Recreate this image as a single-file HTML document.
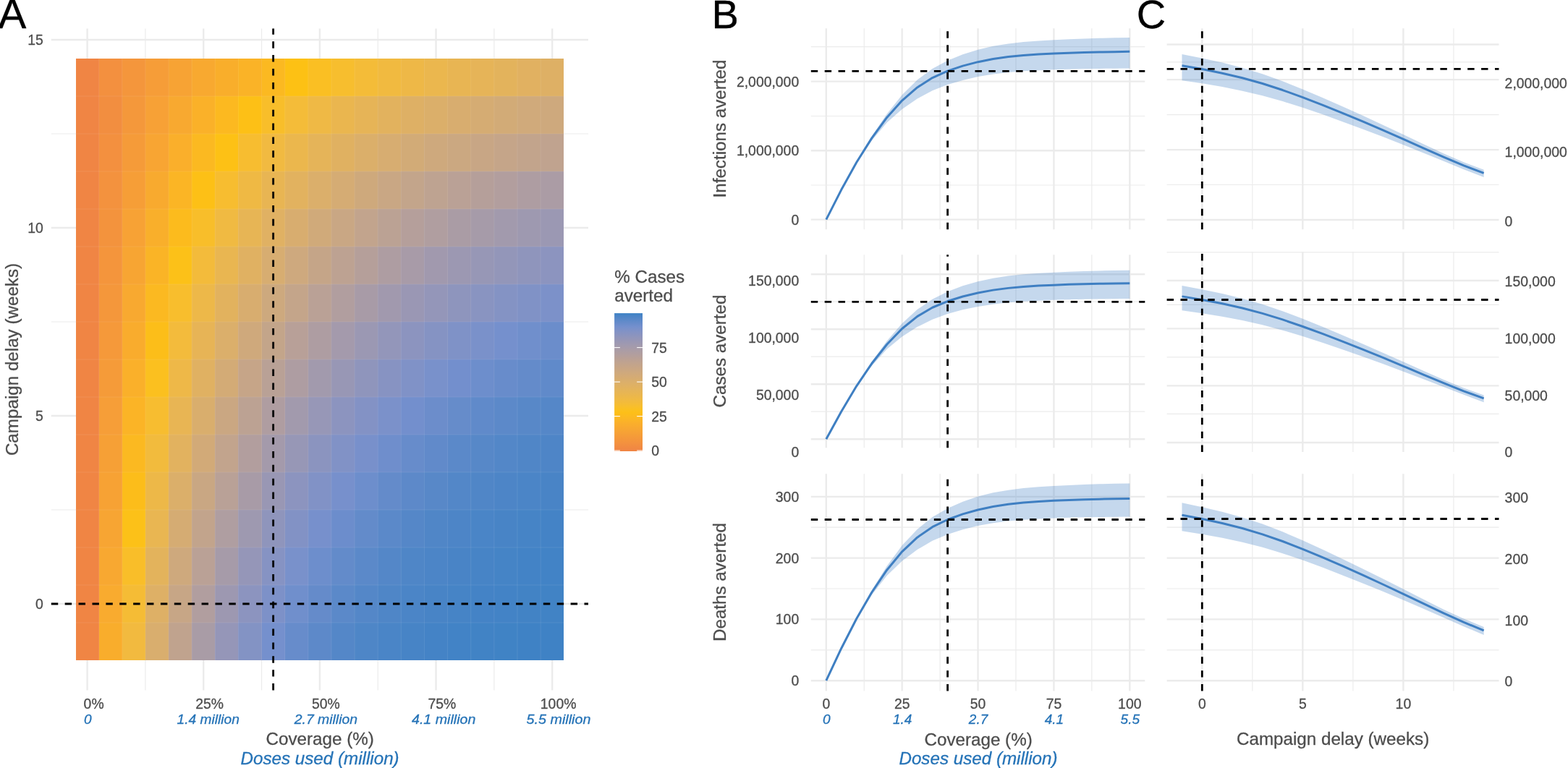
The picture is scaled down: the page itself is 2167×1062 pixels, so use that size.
<!DOCTYPE html>
<html lang="en"><head><meta charset="utf-8"><title>Vaccination campaign coverage and delay</title>
<style>
html,body{margin:0;padding:0;background:#fff;}
body{width:2167px;height:1062px;overflow:hidden;}
svg{display:block;font-family:"Liberation Sans",Arial,Helvetica,sans-serif;}
text{stroke-width:0.3px;stroke-linejoin:round;}
</style></head><body>
<svg width="2167" height="1062" viewBox="0 0 2167 1062">
<rect width="2167" height="1062" fill="#fff"/>
<g id="panelA">
<line x1="200.93" y1="39.5" x2="200.93" y2="954.5" stroke="#EBEBEB" stroke-width="1.18"/>
<line x1="361.57" y1="39.5" x2="361.57" y2="954.5" stroke="#EBEBEB" stroke-width="1.18"/>
<line x1="522.23" y1="39.5" x2="522.23" y2="954.5" stroke="#EBEBEB" stroke-width="1.18"/>
<line x1="682.88" y1="39.5" x2="682.88" y2="954.5" stroke="#EBEBEB" stroke-width="1.18"/>
<line x1="70.8" y1="705" x2="813" y2="705" stroke="#EBEBEB" stroke-width="1.18"/>
<line x1="70.8" y1="445" x2="813" y2="445" stroke="#EBEBEB" stroke-width="1.18"/>
<line x1="70.8" y1="185" x2="813" y2="185" stroke="#EBEBEB" stroke-width="1.18"/>
<line x1="120.6" y1="39.5" x2="120.6" y2="954.5" stroke="#EBEBEB" stroke-width="2.36"/>
<line x1="281.25" y1="39.5" x2="281.25" y2="954.5" stroke="#EBEBEB" stroke-width="2.36"/>
<line x1="441.9" y1="39.5" x2="441.9" y2="954.5" stroke="#EBEBEB" stroke-width="2.36"/>
<line x1="602.55" y1="39.5" x2="602.55" y2="954.5" stroke="#EBEBEB" stroke-width="2.36"/>
<line x1="763.2" y1="39.5" x2="763.2" y2="954.5" stroke="#EBEBEB" stroke-width="2.36"/>
<line x1="70.8" y1="835" x2="813" y2="835" stroke="#EBEBEB" stroke-width="2.36"/>
<line x1="70.8" y1="575" x2="813" y2="575" stroke="#EBEBEB" stroke-width="2.36"/>
<line x1="70.8" y1="315" x2="813" y2="315" stroke="#EBEBEB" stroke-width="2.36"/>
<line x1="70.8" y1="55" x2="813" y2="55" stroke="#EBEBEB" stroke-width="2.36"/>
<g shape-rendering="crispEdges">
<rect x="104.53" y="861" width="32.13" height="52" fill="#F08544"/>
<rect x="136.66" y="861" width="32.13" height="52" fill="#F9AD2C"/>
<rect x="168.79" y="861" width="32.13" height="52" fill="#F2BA3F"/>
<rect x="200.93" y="861" width="32.13" height="52" fill="#D9AE6E"/>
<rect x="233.06" y="861" width="32.13" height="52" fill="#C0A38E"/>
<rect x="265.19" y="861" width="32.13" height="52" fill="#A99CA6"/>
<rect x="297.31" y="861" width="32.13" height="52" fill="#9596B8"/>
<rect x="329.44" y="861" width="32.13" height="52" fill="#8393C4"/>
<rect x="361.57" y="861" width="32.13" height="52" fill="#7590CD"/>
<rect x="393.71" y="861" width="32.13" height="52" fill="#678CCB"/>
<rect x="425.84" y="861" width="32.13" height="52" fill="#5D89C9"/>
<rect x="457.97" y="861" width="32.13" height="52" fill="#5487C8"/>
<rect x="490.1" y="861" width="32.13" height="52" fill="#4E86C7"/>
<rect x="522.23" y="861" width="32.13" height="52" fill="#4A85C7"/>
<rect x="554.36" y="861" width="32.13" height="52" fill="#4784C6"/>
<rect x="586.49" y="861" width="32.13" height="52" fill="#4483C6"/>
<rect x="618.62" y="861" width="32.13" height="52" fill="#4283C6"/>
<rect x="650.75" y="861" width="32.13" height="52" fill="#4183C5"/>
<rect x="682.88" y="861" width="32.13" height="52" fill="#4083C5"/>
<rect x="715" y="861" width="32.13" height="52" fill="#3F82C5"/>
<rect x="747.13" y="861" width="32.13" height="52" fill="#3F82C5"/>
<rect x="104.53" y="809" width="32.13" height="52" fill="#F08544"/>
<rect x="136.66" y="809" width="32.13" height="52" fill="#F9AB2F"/>
<rect x="168.79" y="809" width="32.13" height="52" fill="#F5BC35"/>
<rect x="200.93" y="809" width="32.13" height="52" fill="#DEB066"/>
<rect x="233.06" y="809" width="32.13" height="52" fill="#C7A686"/>
<rect x="265.19" y="809" width="32.13" height="52" fill="#B19E9F"/>
<rect x="297.31" y="809" width="32.13" height="52" fill="#9D98B1"/>
<rect x="329.44" y="809" width="32.13" height="52" fill="#8C94BF"/>
<rect x="361.57" y="809" width="32.13" height="52" fill="#7D91C8"/>
<rect x="393.71" y="809" width="32.13" height="52" fill="#708FCC"/>
<rect x="425.84" y="809" width="32.13" height="52" fill="#658BCA"/>
<rect x="457.97" y="809" width="32.13" height="52" fill="#5B89C9"/>
<rect x="490.1" y="809" width="32.13" height="52" fill="#5487C8"/>
<rect x="522.23" y="809" width="32.13" height="52" fill="#4F86C7"/>
<rect x="554.36" y="809" width="32.13" height="52" fill="#4B85C7"/>
<rect x="586.49" y="809" width="32.13" height="52" fill="#4884C6"/>
<rect x="618.62" y="809" width="32.13" height="52" fill="#4684C6"/>
<rect x="650.75" y="809" width="32.13" height="52" fill="#4483C6"/>
<rect x="682.88" y="809" width="32.13" height="52" fill="#4383C6"/>
<rect x="715" y="809" width="32.13" height="52" fill="#4283C5"/>
<rect x="747.13" y="809" width="32.13" height="52" fill="#4183C5"/>
<rect x="104.53" y="757" width="32.13" height="52" fill="#F08544"/>
<rect x="136.66" y="757" width="32.13" height="52" fill="#F8A831"/>
<rect x="168.79" y="757" width="32.13" height="52" fill="#F9BE29"/>
<rect x="200.93" y="757" width="32.13" height="52" fill="#E3B35C"/>
<rect x="233.06" y="757" width="32.13" height="52" fill="#CEA97D"/>
<rect x="265.19" y="757" width="32.13" height="52" fill="#BAA196"/>
<rect x="297.31" y="757" width="32.13" height="52" fill="#A69BA9"/>
<rect x="329.44" y="757" width="32.13" height="52" fill="#9596B8"/>
<rect x="361.57" y="757" width="32.13" height="52" fill="#8693C3"/>
<rect x="393.71" y="757" width="32.13" height="52" fill="#7991CB"/>
<rect x="425.84" y="757" width="32.13" height="52" fill="#6D8ECC"/>
<rect x="457.97" y="757" width="32.13" height="52" fill="#638BCA"/>
<rect x="490.1" y="757" width="32.13" height="52" fill="#5B89C9"/>
<rect x="522.23" y="757" width="32.13" height="52" fill="#5487C8"/>
<rect x="554.36" y="757" width="32.13" height="52" fill="#4F86C7"/>
<rect x="586.49" y="757" width="32.13" height="52" fill="#4C85C7"/>
<rect x="618.62" y="757" width="32.13" height="52" fill="#4984C6"/>
<rect x="650.75" y="757" width="32.13" height="52" fill="#4784C6"/>
<rect x="682.88" y="757" width="32.13" height="52" fill="#4584C6"/>
<rect x="715" y="757" width="32.13" height="52" fill="#4383C6"/>
<rect x="747.13" y="757" width="32.13" height="52" fill="#4283C6"/>
<rect x="104.53" y="705" width="32.13" height="52" fill="#F08544"/>
<rect x="136.66" y="705" width="32.13" height="52" fill="#F7A533"/>
<rect x="168.79" y="705" width="32.13" height="52" fill="#FCC118"/>
<rect x="200.93" y="705" width="32.13" height="52" fill="#E9B652"/>
<rect x="233.06" y="705" width="32.13" height="52" fill="#D5AC73"/>
<rect x="265.19" y="705" width="32.13" height="52" fill="#C2A48C"/>
<rect x="297.31" y="705" width="32.13" height="52" fill="#AF9EA1"/>
<rect x="329.44" y="705" width="32.13" height="52" fill="#9E99B0"/>
<rect x="361.57" y="705" width="32.13" height="52" fill="#8F95BC"/>
<rect x="393.71" y="705" width="32.13" height="52" fill="#8292C5"/>
<rect x="425.84" y="705" width="32.13" height="52" fill="#7790CC"/>
<rect x="457.97" y="705" width="32.13" height="52" fill="#6C8DCC"/>
<rect x="490.1" y="705" width="32.13" height="52" fill="#638BCA"/>
<rect x="522.23" y="705" width="32.13" height="52" fill="#5B89C9"/>
<rect x="554.36" y="705" width="32.13" height="52" fill="#5587C8"/>
<rect x="586.49" y="705" width="32.13" height="52" fill="#5086C7"/>
<rect x="618.62" y="705" width="32.13" height="52" fill="#4D85C7"/>
<rect x="650.75" y="705" width="32.13" height="52" fill="#4A85C7"/>
<rect x="682.88" y="705" width="32.13" height="52" fill="#4884C6"/>
<rect x="715" y="705" width="32.13" height="52" fill="#4684C6"/>
<rect x="747.13" y="705" width="32.13" height="52" fill="#4483C6"/>
<rect x="104.53" y="653" width="32.13" height="52" fill="#F08544"/>
<rect x="136.66" y="653" width="32.13" height="52" fill="#F7A234"/>
<rect x="168.79" y="653" width="32.13" height="52" fill="#FCBD1A"/>
<rect x="200.93" y="653" width="32.13" height="52" fill="#EDB848"/>
<rect x="233.06" y="653" width="32.13" height="52" fill="#DBAF6A"/>
<rect x="265.19" y="653" width="32.13" height="52" fill="#C9A783"/>
<rect x="297.31" y="653" width="32.13" height="52" fill="#B9A197"/>
<rect x="329.44" y="653" width="32.13" height="52" fill="#A89BA7"/>
<rect x="361.57" y="653" width="32.13" height="52" fill="#9997B4"/>
<rect x="393.71" y="653" width="32.13" height="52" fill="#8C94BF"/>
<rect x="425.84" y="653" width="32.13" height="52" fill="#8192C6"/>
<rect x="457.97" y="653" width="32.13" height="52" fill="#7790CC"/>
<rect x="490.1" y="653" width="32.13" height="52" fill="#6D8ECC"/>
<rect x="522.23" y="653" width="32.13" height="52" fill="#648BCA"/>
<rect x="554.36" y="653" width="32.13" height="52" fill="#5D89C9"/>
<rect x="586.49" y="653" width="32.13" height="52" fill="#5888C8"/>
<rect x="618.62" y="653" width="32.13" height="52" fill="#5387C8"/>
<rect x="650.75" y="653" width="32.13" height="52" fill="#5086C7"/>
<rect x="682.88" y="653" width="32.13" height="52" fill="#4D85C7"/>
<rect x="715" y="653" width="32.13" height="52" fill="#4B85C7"/>
<rect x="747.13" y="653" width="32.13" height="52" fill="#4984C6"/>
<rect x="104.53" y="601" width="32.13" height="52" fill="#F08544"/>
<rect x="136.66" y="601" width="32.13" height="52" fill="#F6A036"/>
<rect x="168.79" y="601" width="32.13" height="52" fill="#FBB921"/>
<rect x="200.93" y="601" width="32.13" height="52" fill="#F2BB3D"/>
<rect x="233.06" y="601" width="32.13" height="52" fill="#E2B25F"/>
<rect x="265.19" y="601" width="32.13" height="52" fill="#D2AA78"/>
<rect x="297.31" y="601" width="32.13" height="52" fill="#C2A48D"/>
<rect x="329.44" y="601" width="32.13" height="52" fill="#B29E9E"/>
<rect x="361.57" y="601" width="32.13" height="52" fill="#A49AAB"/>
<rect x="393.71" y="601" width="32.13" height="52" fill="#9797B6"/>
<rect x="425.84" y="601" width="32.13" height="52" fill="#8B94BF"/>
<rect x="457.97" y="601" width="32.13" height="52" fill="#8192C6"/>
<rect x="490.1" y="601" width="32.13" height="52" fill="#7890CB"/>
<rect x="522.23" y="601" width="32.13" height="52" fill="#6F8ECC"/>
<rect x="554.36" y="601" width="32.13" height="52" fill="#678CCB"/>
<rect x="586.49" y="601" width="32.13" height="52" fill="#618ACA"/>
<rect x="618.62" y="601" width="32.13" height="52" fill="#5B89C9"/>
<rect x="650.75" y="601" width="32.13" height="52" fill="#5788C8"/>
<rect x="682.88" y="601" width="32.13" height="52" fill="#5387C8"/>
<rect x="715" y="601" width="32.13" height="52" fill="#5086C7"/>
<rect x="747.13" y="601" width="32.13" height="52" fill="#4E85C7"/>
<rect x="104.53" y="549" width="32.13" height="52" fill="#F08544"/>
<rect x="136.66" y="549" width="32.13" height="52" fill="#F69E38"/>
<rect x="168.79" y="549" width="32.13" height="52" fill="#FBB426"/>
<rect x="200.93" y="549" width="32.13" height="52" fill="#F7BD30"/>
<rect x="233.06" y="549" width="32.13" height="52" fill="#E8B554"/>
<rect x="265.19" y="549" width="32.13" height="52" fill="#D9AE6D"/>
<rect x="297.31" y="549" width="32.13" height="52" fill="#CAA782"/>
<rect x="329.44" y="549" width="32.13" height="52" fill="#BCA293"/>
<rect x="361.57" y="549" width="32.13" height="52" fill="#AF9DA1"/>
<rect x="393.71" y="549" width="32.13" height="52" fill="#A29AAD"/>
<rect x="425.84" y="549" width="32.13" height="52" fill="#9797B7"/>
<rect x="457.97" y="549" width="32.13" height="52" fill="#8C94BF"/>
<rect x="490.1" y="549" width="32.13" height="52" fill="#8392C5"/>
<rect x="522.23" y="549" width="32.13" height="52" fill="#7B91CA"/>
<rect x="554.36" y="549" width="32.13" height="52" fill="#738FCD"/>
<rect x="586.49" y="549" width="32.13" height="52" fill="#6C8DCB"/>
<rect x="618.62" y="549" width="32.13" height="52" fill="#668CCA"/>
<rect x="650.75" y="549" width="32.13" height="52" fill="#608ACA"/>
<rect x="682.88" y="549" width="32.13" height="52" fill="#5C89C9"/>
<rect x="715" y="549" width="32.13" height="52" fill="#5888C8"/>
<rect x="747.13" y="549" width="32.13" height="52" fill="#5587C8"/>
<rect x="104.53" y="497" width="32.13" height="52" fill="#F08544"/>
<rect x="136.66" y="497" width="32.13" height="52" fill="#F59B39"/>
<rect x="168.79" y="497" width="32.13" height="52" fill="#FAB02A"/>
<rect x="200.93" y="497" width="32.13" height="52" fill="#FBC01F"/>
<rect x="233.06" y="497" width="32.13" height="52" fill="#EEB848"/>
<rect x="265.19" y="497" width="32.13" height="52" fill="#E0B162"/>
<rect x="297.31" y="497" width="32.13" height="52" fill="#D3AB76"/>
<rect x="329.44" y="497" width="32.13" height="52" fill="#C6A588"/>
<rect x="361.57" y="497" width="32.13" height="52" fill="#B9A196"/>
<rect x="393.71" y="497" width="32.13" height="52" fill="#AE9DA2"/>
<rect x="425.84" y="497" width="32.13" height="52" fill="#A29AAD"/>
<rect x="457.97" y="497" width="32.13" height="52" fill="#9897B5"/>
<rect x="490.1" y="497" width="32.13" height="52" fill="#8F95BC"/>
<rect x="522.23" y="497" width="32.13" height="52" fill="#8793C2"/>
<rect x="554.36" y="497" width="32.13" height="52" fill="#8092C7"/>
<rect x="586.49" y="497" width="32.13" height="52" fill="#7991CB"/>
<rect x="618.62" y="497" width="32.13" height="52" fill="#738FCD"/>
<rect x="650.75" y="497" width="32.13" height="52" fill="#6D8ECC"/>
<rect x="682.88" y="497" width="32.13" height="52" fill="#688CCB"/>
<rect x="715" y="497" width="32.13" height="52" fill="#648BCA"/>
<rect x="747.13" y="497" width="32.13" height="52" fill="#608ACA"/>
<rect x="104.53" y="445" width="32.13" height="52" fill="#F08544"/>
<rect x="136.66" y="445" width="32.13" height="52" fill="#F5993A"/>
<rect x="168.79" y="445" width="32.13" height="52" fill="#F9AC2D"/>
<rect x="200.93" y="445" width="32.13" height="52" fill="#FCBE19"/>
<rect x="233.06" y="445" width="32.13" height="52" fill="#F3BB3C"/>
<rect x="265.19" y="445" width="32.13" height="52" fill="#E7B456"/>
<rect x="297.31" y="445" width="32.13" height="52" fill="#DBAF6B"/>
<rect x="329.44" y="445" width="32.13" height="52" fill="#CFA97C"/>
<rect x="361.57" y="445" width="32.13" height="52" fill="#C3A58A"/>
<rect x="393.71" y="445" width="32.13" height="52" fill="#B8A098"/>
<rect x="425.84" y="445" width="32.13" height="52" fill="#AE9DA2"/>
<rect x="457.97" y="445" width="32.13" height="52" fill="#A49AAC"/>
<rect x="490.1" y="445" width="32.13" height="52" fill="#9B98B3"/>
<rect x="522.23" y="445" width="32.13" height="52" fill="#9396BA"/>
<rect x="554.36" y="445" width="32.13" height="52" fill="#8C94BF"/>
<rect x="586.49" y="445" width="32.13" height="52" fill="#8593C3"/>
<rect x="618.62" y="445" width="32.13" height="52" fill="#7F92C7"/>
<rect x="650.75" y="445" width="32.13" height="52" fill="#7A91CA"/>
<rect x="682.88" y="445" width="32.13" height="52" fill="#7590CD"/>
<rect x="715" y="445" width="32.13" height="52" fill="#708FCC"/>
<rect x="747.13" y="445" width="32.13" height="52" fill="#6B8DCB"/>
<rect x="104.53" y="393" width="32.13" height="52" fill="#F08544"/>
<rect x="136.66" y="393" width="32.13" height="52" fill="#F4973B"/>
<rect x="168.79" y="393" width="32.13" height="52" fill="#F8A930"/>
<rect x="200.93" y="393" width="32.13" height="52" fill="#FBB921"/>
<rect x="233.06" y="393" width="32.13" height="52" fill="#F8BE2D"/>
<rect x="265.19" y="393" width="32.13" height="52" fill="#EDB849"/>
<rect x="297.31" y="393" width="32.13" height="52" fill="#E2B25E"/>
<rect x="329.44" y="393" width="32.13" height="52" fill="#D8AD6F"/>
<rect x="361.57" y="393" width="32.13" height="52" fill="#CDA97E"/>
<rect x="393.71" y="393" width="32.13" height="52" fill="#C4A58A"/>
<rect x="425.84" y="393" width="32.13" height="52" fill="#BAA196"/>
<rect x="457.97" y="393" width="32.13" height="52" fill="#B19E9F"/>
<rect x="490.1" y="393" width="32.13" height="52" fill="#A89BA7"/>
<rect x="522.23" y="393" width="32.13" height="52" fill="#A199AE"/>
<rect x="554.36" y="393" width="32.13" height="52" fill="#9A97B4"/>
<rect x="586.49" y="393" width="32.13" height="52" fill="#9496B9"/>
<rect x="618.62" y="393" width="32.13" height="52" fill="#8E95BD"/>
<rect x="650.75" y="393" width="32.13" height="52" fill="#8994C1"/>
<rect x="682.88" y="393" width="32.13" height="52" fill="#8493C4"/>
<rect x="715" y="393" width="32.13" height="52" fill="#8092C6"/>
<rect x="747.13" y="393" width="32.13" height="52" fill="#7C91C9"/>
<rect x="104.53" y="341" width="32.13" height="52" fill="#F08544"/>
<rect x="136.66" y="341" width="32.13" height="52" fill="#F4953C"/>
<rect x="168.79" y="341" width="32.13" height="52" fill="#F7A533"/>
<rect x="200.93" y="341" width="32.13" height="52" fill="#FAB426"/>
<rect x="233.06" y="341" width="32.13" height="52" fill="#FCC118"/>
<rect x="265.19" y="341" width="32.13" height="52" fill="#F3BB3B"/>
<rect x="297.31" y="341" width="32.13" height="52" fill="#E9B651"/>
<rect x="329.44" y="341" width="32.13" height="52" fill="#E0B162"/>
<rect x="361.57" y="341" width="32.13" height="52" fill="#D7AD71"/>
<rect x="393.71" y="341" width="32.13" height="52" fill="#CEA97E"/>
<rect x="425.84" y="341" width="32.13" height="52" fill="#C5A588"/>
<rect x="457.97" y="341" width="32.13" height="52" fill="#BDA292"/>
<rect x="490.1" y="341" width="32.13" height="52" fill="#B59F9A"/>
<rect x="522.23" y="341" width="32.13" height="52" fill="#AE9DA2"/>
<rect x="554.36" y="341" width="32.13" height="52" fill="#A89BA8"/>
<rect x="586.49" y="341" width="32.13" height="52" fill="#A199AE"/>
<rect x="618.62" y="341" width="32.13" height="52" fill="#9C98B2"/>
<rect x="650.75" y="341" width="32.13" height="52" fill="#9797B6"/>
<rect x="682.88" y="341" width="32.13" height="52" fill="#9396B9"/>
<rect x="715" y="341" width="32.13" height="52" fill="#8F95BC"/>
<rect x="747.13" y="341" width="32.13" height="52" fill="#8C94BF"/>
<rect x="104.53" y="289" width="32.13" height="52" fill="#F08544"/>
<rect x="136.66" y="289" width="32.13" height="52" fill="#F3933D"/>
<rect x="168.79" y="289" width="32.13" height="52" fill="#F7A235"/>
<rect x="200.93" y="289" width="32.13" height="52" fill="#F9AF2B"/>
<rect x="233.06" y="289" width="32.13" height="52" fill="#FCBB1D"/>
<rect x="265.19" y="289" width="32.13" height="52" fill="#F8BE2A"/>
<rect x="297.31" y="289" width="32.13" height="52" fill="#F0BA42"/>
<rect x="329.44" y="289" width="32.13" height="52" fill="#E7B555"/>
<rect x="361.57" y="289" width="32.13" height="52" fill="#E0B163"/>
<rect x="393.71" y="289" width="32.13" height="52" fill="#D8AD6F"/>
<rect x="425.84" y="289" width="32.13" height="52" fill="#D0AA7A"/>
<rect x="457.97" y="289" width="32.13" height="52" fill="#C9A784"/>
<rect x="490.1" y="289" width="32.13" height="52" fill="#C2A48D"/>
<rect x="522.23" y="289" width="32.13" height="52" fill="#BBA294"/>
<rect x="554.36" y="289" width="32.13" height="52" fill="#B59F9B"/>
<rect x="586.49" y="289" width="32.13" height="52" fill="#B09EA0"/>
<rect x="618.62" y="289" width="32.13" height="52" fill="#AA9CA5"/>
<rect x="650.75" y="289" width="32.13" height="52" fill="#A69BA9"/>
<rect x="682.88" y="289" width="32.13" height="52" fill="#A29AAD"/>
<rect x="715" y="289" width="32.13" height="52" fill="#9E99B0"/>
<rect x="747.13" y="289" width="32.13" height="52" fill="#9B98B3"/>
<rect x="104.53" y="237" width="32.13" height="52" fill="#F08544"/>
<rect x="136.66" y="237" width="32.13" height="52" fill="#F3923E"/>
<rect x="168.79" y="237" width="32.13" height="52" fill="#F69E37"/>
<rect x="200.93" y="237" width="32.13" height="52" fill="#F8AA2F"/>
<rect x="233.06" y="237" width="32.13" height="52" fill="#FBB525"/>
<rect x="265.19" y="237" width="32.13" height="52" fill="#FDC016"/>
<rect x="297.31" y="237" width="32.13" height="52" fill="#F7BD30"/>
<rect x="329.44" y="237" width="32.13" height="52" fill="#EFB944"/>
<rect x="361.57" y="237" width="32.13" height="52" fill="#E8B553"/>
<rect x="393.71" y="237" width="32.13" height="52" fill="#E2B25F"/>
<rect x="425.84" y="237" width="32.13" height="52" fill="#DBAF6B"/>
<rect x="457.97" y="237" width="32.13" height="52" fill="#D5AC74"/>
<rect x="490.1" y="237" width="32.13" height="52" fill="#CEA97C"/>
<rect x="522.23" y="237" width="32.13" height="52" fill="#C9A784"/>
<rect x="554.36" y="237" width="32.13" height="52" fill="#C3A58B"/>
<rect x="586.49" y="237" width="32.13" height="52" fill="#BEA391"/>
<rect x="618.62" y="237" width="32.13" height="52" fill="#BAA196"/>
<rect x="650.75" y="237" width="32.13" height="52" fill="#B59F9A"/>
<rect x="682.88" y="237" width="32.13" height="52" fill="#B29E9E"/>
<rect x="715" y="237" width="32.13" height="52" fill="#AE9DA2"/>
<rect x="747.13" y="237" width="32.13" height="52" fill="#AB9CA5"/>
<rect x="104.53" y="185" width="32.13" height="52" fill="#F08544"/>
<rect x="136.66" y="185" width="32.13" height="52" fill="#F3903F"/>
<rect x="168.79" y="185" width="32.13" height="52" fill="#F59B39"/>
<rect x="200.93" y="185" width="32.13" height="52" fill="#F8A533"/>
<rect x="233.06" y="185" width="32.13" height="52" fill="#FAAF2B"/>
<rect x="265.19" y="185" width="32.13" height="52" fill="#FBB921"/>
<rect x="297.31" y="185" width="32.13" height="52" fill="#FDC115"/>
<rect x="329.44" y="185" width="32.13" height="52" fill="#F7BD30"/>
<rect x="361.57" y="185" width="32.13" height="52" fill="#F1BA41"/>
<rect x="393.71" y="185" width="32.13" height="52" fill="#EBB74D"/>
<rect x="425.84" y="185" width="32.13" height="52" fill="#E5B459"/>
<rect x="457.97" y="185" width="32.13" height="52" fill="#E0B161"/>
<rect x="490.1" y="185" width="32.13" height="52" fill="#DBAF6A"/>
<rect x="522.23" y="185" width="32.13" height="52" fill="#D7AD71"/>
<rect x="554.36" y="185" width="32.13" height="52" fill="#D2AB77"/>
<rect x="586.49" y="185" width="32.13" height="52" fill="#CEA97D"/>
<rect x="618.62" y="185" width="32.13" height="52" fill="#CBA881"/>
<rect x="650.75" y="185" width="32.13" height="52" fill="#C8A685"/>
<rect x="682.88" y="185" width="32.13" height="52" fill="#C5A589"/>
<rect x="715" y="185" width="32.13" height="52" fill="#C2A48C"/>
<rect x="747.13" y="185" width="32.13" height="52" fill="#C0A38F"/>
<rect x="104.53" y="133" width="32.13" height="52" fill="#F08544"/>
<rect x="136.66" y="133" width="32.13" height="52" fill="#F28E40"/>
<rect x="168.79" y="133" width="32.13" height="52" fill="#F4983B"/>
<rect x="200.93" y="133" width="32.13" height="52" fill="#F7A136"/>
<rect x="233.06" y="133" width="32.13" height="52" fill="#F8A930"/>
<rect x="265.19" y="133" width="32.13" height="52" fill="#FAB129"/>
<rect x="297.31" y="133" width="32.13" height="52" fill="#FCB920"/>
<rect x="329.44" y="133" width="32.13" height="52" fill="#FDC016"/>
<rect x="361.57" y="133" width="32.13" height="52" fill="#F8BE2A"/>
<rect x="393.71" y="133" width="32.13" height="52" fill="#F4BC39"/>
<rect x="425.84" y="133" width="32.13" height="52" fill="#EFB945"/>
<rect x="457.97" y="133" width="32.13" height="52" fill="#EAB64F"/>
<rect x="490.1" y="133" width="32.13" height="52" fill="#E6B457"/>
<rect x="522.23" y="133" width="32.13" height="52" fill="#E2B25E"/>
<rect x="554.36" y="133" width="32.13" height="52" fill="#DEB065"/>
<rect x="586.49" y="133" width="32.13" height="52" fill="#DBAF6A"/>
<rect x="618.62" y="133" width="32.13" height="52" fill="#D8AD6F"/>
<rect x="650.75" y="133" width="32.13" height="52" fill="#D5AC73"/>
<rect x="682.88" y="133" width="32.13" height="52" fill="#D2AB77"/>
<rect x="715" y="133" width="32.13" height="52" fill="#D0AA7B"/>
<rect x="747.13" y="133" width="32.13" height="52" fill="#CEA97D"/>
<rect x="104.53" y="81" width="32.13" height="52" fill="#F08544"/>
<rect x="136.66" y="81" width="32.13" height="52" fill="#F3903F"/>
<rect x="168.79" y="81" width="32.13" height="52" fill="#F4963C"/>
<rect x="200.93" y="81" width="32.13" height="52" fill="#F69D38"/>
<rect x="233.06" y="81" width="32.13" height="52" fill="#F7A334"/>
<rect x="265.19" y="81" width="32.13" height="52" fill="#F8A930"/>
<rect x="297.31" y="81" width="32.13" height="52" fill="#F9AE2B"/>
<rect x="329.44" y="81" width="32.13" height="52" fill="#FAB327"/>
<rect x="361.57" y="81" width="32.13" height="52" fill="#FBB921"/>
<rect x="393.71" y="81" width="32.13" height="52" fill="#FDC114"/>
<rect x="425.84" y="81" width="32.13" height="52" fill="#FABF23"/>
<rect x="457.97" y="81" width="32.13" height="52" fill="#F7BE2E"/>
<rect x="490.1" y="81" width="32.13" height="52" fill="#F4BC38"/>
<rect x="522.23" y="81" width="32.13" height="52" fill="#F1BA40"/>
<rect x="554.36" y="81" width="32.13" height="52" fill="#EEB847"/>
<rect x="586.49" y="81" width="32.13" height="52" fill="#EBB74E"/>
<rect x="618.62" y="81" width="32.13" height="52" fill="#E8B553"/>
<rect x="650.75" y="81" width="32.13" height="52" fill="#E6B458"/>
<rect x="682.88" y="81" width="32.13" height="52" fill="#E3B35C"/>
<rect x="715" y="81" width="32.13" height="52" fill="#E1B161"/>
<rect x="747.13" y="81" width="32.13" height="52" fill="#DEB065"/>
</g>
<g stroke="#fff" stroke-opacity="0.13" stroke-width="0.7">
<line x1="136.66" y1="81" x2="136.66" y2="913"/>
<line x1="168.79" y1="81" x2="168.79" y2="913"/>
<line x1="200.93" y1="81" x2="200.93" y2="913"/>
<line x1="233.06" y1="81" x2="233.06" y2="913"/>
<line x1="265.19" y1="81" x2="265.19" y2="913"/>
<line x1="297.31" y1="81" x2="297.31" y2="913"/>
<line x1="329.44" y1="81" x2="329.44" y2="913"/>
<line x1="361.57" y1="81" x2="361.57" y2="913"/>
<line x1="393.71" y1="81" x2="393.71" y2="913"/>
<line x1="425.84" y1="81" x2="425.84" y2="913"/>
<line x1="457.97" y1="81" x2="457.97" y2="913"/>
<line x1="490.1" y1="81" x2="490.1" y2="913"/>
<line x1="522.23" y1="81" x2="522.23" y2="913"/>
<line x1="554.36" y1="81" x2="554.36" y2="913"/>
<line x1="586.49" y1="81" x2="586.49" y2="913"/>
<line x1="618.62" y1="81" x2="618.62" y2="913"/>
<line x1="650.75" y1="81" x2="650.75" y2="913"/>
<line x1="682.88" y1="81" x2="682.88" y2="913"/>
<line x1="715" y1="81" x2="715" y2="913"/>
<line x1="747.13" y1="81" x2="747.13" y2="913"/>
<line x1="104.53" y1="861" x2="779.26" y2="861"/>
<line x1="104.53" y1="809" x2="779.26" y2="809"/>
<line x1="104.53" y1="757" x2="779.26" y2="757"/>
<line x1="104.53" y1="705" x2="779.26" y2="705"/>
<line x1="104.53" y1="653" x2="779.26" y2="653"/>
<line x1="104.53" y1="601" x2="779.26" y2="601"/>
<line x1="104.53" y1="549" x2="779.26" y2="549"/>
<line x1="104.53" y1="497" x2="779.26" y2="497"/>
<line x1="104.53" y1="445" x2="779.26" y2="445"/>
<line x1="104.53" y1="393" x2="779.26" y2="393"/>
<line x1="104.53" y1="341" x2="779.26" y2="341"/>
<line x1="104.53" y1="289" x2="779.26" y2="289"/>
<line x1="104.53" y1="237" x2="779.26" y2="237"/>
<line x1="104.53" y1="185" x2="779.26" y2="185"/>
<line x1="104.53" y1="133" x2="779.26" y2="133"/>
</g>
<line x1="70.8" y1="835" x2="813" y2="835" stroke="#000" stroke-width="2.8" stroke-dasharray="9.445 9.445"/>
<line x1="377.64" y1="954.5" x2="377.64" y2="39.5" stroke="#000" stroke-width="2.8" stroke-dasharray="9.445 9.445"/>
<text x="59.8" y="841.9" font-size="19.4" text-anchor="end" fill="#4D4D4D" stroke="#4D4D4D">0</text>
<text x="59.8" y="581.9" font-size="19.4" text-anchor="end" fill="#4D4D4D" stroke="#4D4D4D">5</text>
<text x="59.8" y="321.9" font-size="19.4" text-anchor="end" fill="#4D4D4D" stroke="#4D4D4D">10</text>
<text x="59.8" y="61.9" font-size="19.4" text-anchor="end" fill="#4D4D4D" stroke="#4D4D4D">15</text>
<text x="115.6" y="980.2" font-size="19.4" fill="#4D4D4D" stroke="#4D4D4D">0%</text>
<text x="270.26" y="980.2" font-size="19.4" fill="#4D4D4D" stroke="#4D4D4D">25%</text>
<text x="430.91" y="980.2" font-size="19.4" fill="#4D4D4D" stroke="#4D4D4D">50%</text>
<text x="591.56" y="980.2" font-size="19.4" fill="#4D4D4D" stroke="#4D4D4D">75%</text>
<text x="746.82" y="980.2" font-size="19.4" fill="#4D4D4D" stroke="#4D4D4D">100%</text>
<text x="116" y="1000.6" font-size="19.0" font-style="italic" fill="#2573B7" stroke="#2573B7">0</text>
<text x="244.6" y="1000.6" font-size="19.0" font-style="italic" textLength="86.3" lengthAdjust="spacingAndGlyphs" fill="#2573B7" stroke="#2573B7">1.4 million</text>
<text x="406.7" y="1000.6" font-size="19.0" font-style="italic" textLength="87.4" lengthAdjust="spacingAndGlyphs" fill="#2573B7" stroke="#2573B7">2.7 million</text>
<text x="569" y="1000.6" font-size="19.0" font-style="italic" textLength="88.4" lengthAdjust="spacingAndGlyphs" fill="#2573B7" stroke="#2573B7">4.1 million</text>
<text x="727.6" y="1000.6" font-size="19.0" font-style="italic" textLength="88.8" lengthAdjust="spacingAndGlyphs" fill="#2573B7" stroke="#2573B7">5.5 million</text>
<text x="442.2" y="1030.4" font-size="24.2" text-anchor="middle" fill="#4D4D4D" stroke="#4D4D4D">Coverage (%)</text>
<text x="442.1" y="1056.8" font-size="24.2" text-anchor="middle" font-style="italic" fill="#2573B7" stroke="#2573B7">Doses used (million)</text>
<text x="24.5" y="497" font-size="24.2" text-anchor="middle" transform="rotate(-90 24.5 497)" fill="#4D4D4D" stroke="#4D4D4D">Campaign delay (weeks)</text>
<text x="-2.4" y="39" font-size="57.5" textLength="38.9" lengthAdjust="spacingAndGlyphs" fill="#000" stroke="#000">A</text>
<text x="849.3" y="390.8" font-size="24.2" fill="#4D4D4D" stroke="#4D4D4D">% Cases</text>
<text x="849.3" y="417.4" font-size="24.2" fill="#4D4D4D" stroke="#4D4D4D">averted</text>
<defs><linearGradient id="lg" x1="0" y1="1" x2="0" y2="0"><stop offset="0.0047" stop-color="#F08544"/><stop offset="0.0296" stop-color="#F18A42"/><stop offset="0.0545" stop-color="#F3903F"/><stop offset="0.0794" stop-color="#F4953C"/><stop offset="0.1042" stop-color="#F59A39"/><stop offset="0.1291" stop-color="#F6A036"/><stop offset="0.1540" stop-color="#F7A533"/><stop offset="0.1789" stop-color="#F9AA2F"/><stop offset="0.2038" stop-color="#FAAF2B"/><stop offset="0.2287" stop-color="#FBB526"/><stop offset="0.2535" stop-color="#FCBA20"/><stop offset="0.2784" stop-color="#FDBF18"/><stop offset="0.3033" stop-color="#FBC020"/><stop offset="0.3282" stop-color="#F7BE2E"/><stop offset="0.3531" stop-color="#F3BB3A"/><stop offset="0.3779" stop-color="#EFB944"/><stop offset="0.4028" stop-color="#EBB74C"/><stop offset="0.4277" stop-color="#E7B555"/><stop offset="0.4526" stop-color="#E3B35C"/><stop offset="0.4775" stop-color="#DFB164"/><stop offset="0.5024" stop-color="#DBAF6B"/><stop offset="0.5272" stop-color="#D6AC71"/><stop offset="0.5521" stop-color="#D2AA78"/><stop offset="0.5770" stop-color="#CDA87F"/><stop offset="0.6019" stop-color="#C8A685"/><stop offset="0.6268" stop-color="#C3A48B"/><stop offset="0.6517" stop-color="#BEA291"/><stop offset="0.6765" stop-color="#B8A097"/><stop offset="0.7014" stop-color="#B29E9E"/><stop offset="0.7263" stop-color="#AC9DA4"/><stop offset="0.7512" stop-color="#A69BAA"/><stop offset="0.7761" stop-color="#9F99B0"/><stop offset="0.8009" stop-color="#9897B5"/><stop offset="0.8258" stop-color="#9095BB"/><stop offset="0.8507" stop-color="#8893C1"/><stop offset="0.8756" stop-color="#7F92C7"/><stop offset="0.9005" stop-color="#7590CD"/><stop offset="0.9254" stop-color="#698CCB"/><stop offset="0.9502" stop-color="#5C89C9"/><stop offset="0.9751" stop-color="#4E85C7"/><stop offset="1.0000" stop-color="#3D82C5"/></linearGradient></defs>
<rect x="849.1" y="433.1" width="38.9" height="190.9" fill="url(#lg)"/>
<line x1="849.1" y1="623.1" x2="856.9" y2="623.1" stroke="#fff" stroke-width="1.1"/>
<line x1="880.2" y1="623.1" x2="888" y2="623.1" stroke="#fff" stroke-width="1.1"/>
<text x="900.3" y="630" font-size="19.4" fill="#4D4D4D" stroke="#4D4D4D">0</text>
<line x1="849.1" y1="575.6" x2="856.9" y2="575.6" stroke="#fff" stroke-width="1.1"/>
<line x1="880.2" y1="575.6" x2="888" y2="575.6" stroke="#fff" stroke-width="1.1"/>
<text x="900.3" y="582.5" font-size="19.4" fill="#4D4D4D" stroke="#4D4D4D">25</text>
<line x1="849.1" y1="528.1" x2="856.9" y2="528.1" stroke="#fff" stroke-width="1.1"/>
<line x1="880.2" y1="528.1" x2="888" y2="528.1" stroke="#fff" stroke-width="1.1"/>
<text x="900.3" y="535" font-size="19.4" fill="#4D4D4D" stroke="#4D4D4D">50</text>
<line x1="849.1" y1="480.6" x2="856.9" y2="480.6" stroke="#fff" stroke-width="1.1"/>
<line x1="880.2" y1="480.6" x2="888" y2="480.6" stroke="#fff" stroke-width="1.1"/>
<text x="900.3" y="487.5" font-size="19.4" fill="#4D4D4D" stroke="#4D4D4D">75</text>
</g>
<g id="B1">
<line x1="1194.24" y1="39.2" x2="1194.24" y2="317.2" stroke="#EBEBEB" stroke-width="1.18"/>
<line x1="1299.11" y1="39.2" x2="1299.11" y2="317.2" stroke="#EBEBEB" stroke-width="1.18"/>
<line x1="1403.99" y1="39.2" x2="1403.99" y2="317.2" stroke="#EBEBEB" stroke-width="1.18"/>
<line x1="1508.86" y1="39.2" x2="1508.86" y2="317.2" stroke="#EBEBEB" stroke-width="1.18"/>
<line x1="1120.8" y1="256" x2="1582.3" y2="256" stroke="#EBEBEB" stroke-width="1.18"/>
<line x1="1120.8" y1="160.5" x2="1582.3" y2="160.5" stroke="#EBEBEB" stroke-width="1.18"/>
<line x1="1120.8" y1="64.7" x2="1582.3" y2="64.7" stroke="#EBEBEB" stroke-width="1.18"/>
<line x1="1141.8" y1="39.2" x2="1141.8" y2="317.2" stroke="#EBEBEB" stroke-width="2.36"/>
<line x1="1246.67" y1="39.2" x2="1246.67" y2="317.2" stroke="#EBEBEB" stroke-width="2.36"/>
<line x1="1351.55" y1="39.2" x2="1351.55" y2="317.2" stroke="#EBEBEB" stroke-width="2.36"/>
<line x1="1456.42" y1="39.2" x2="1456.42" y2="317.2" stroke="#EBEBEB" stroke-width="2.36"/>
<line x1="1561.3" y1="39.2" x2="1561.3" y2="317.2" stroke="#EBEBEB" stroke-width="2.36"/>
<line x1="1120.8" y1="303.6" x2="1582.3" y2="303.6" stroke="#EBEBEB" stroke-width="2.36"/>
<line x1="1120.8" y1="208.3" x2="1582.3" y2="208.3" stroke="#EBEBEB" stroke-width="2.36"/>
<line x1="1120.8" y1="112.6" x2="1582.3" y2="112.6" stroke="#EBEBEB" stroke-width="2.36"/>
<polygon points="1141.8,303.6 1162.77,262.15 1183.75,223.57 1204.72,188.43 1225.7,157.49 1246.67,131.22 1267.65,110.59 1288.62,95.03 1309.6,83.85 1330.58,75.26 1351.55,68.67 1372.52,63.8 1393.5,60.46 1414.47,58.07 1435.45,56.45 1456.42,55.2 1477.4,54.25 1498.38,53.39 1519.35,52.82 1540.32,52.34 1561.3,52.05 1561.3,94.46 1540.32,94.65 1519.35,94.93 1498.38,95.22 1477.4,95.7 1456.42,96.37 1435.45,97.22 1414.47,98.37 1393.5,100.09 1372.52,102.57 1351.55,106.11 1330.58,110.88 1309.6,117.09 1288.62,125.21 1267.65,136.48 1246.67,150.99 1225.7,169.61 1204.72,194.44 1183.75,225.67 1162.77,262.63 1141.8,303.6" fill="#3F7FC2" fill-opacity="0.3"/>
<polyline points="1141.8,303.6 1162.77,262.34 1183.75,224.53 1204.72,191.1 1225.7,162.45 1246.67,139.05 1267.65,120.91 1288.62,107.54 1309.6,98.18 1330.58,91.11 1351.55,85.67 1372.52,81.56 1393.5,78.6 1414.47,76.5 1435.45,75.07 1456.42,74.02 1477.4,73.16 1498.38,72.49 1519.35,72.01 1540.32,71.63 1561.3,71.34" fill="none" stroke="#3F7FC2" stroke-width="3" stroke-linejoin="round"/>
<line x1="1120.8" y1="98.4" x2="1582.3" y2="98.4" stroke="#000" stroke-width="2.8" stroke-dasharray="9.445 9.445"/>
<line x1="1309.6" y1="317.2" x2="1309.6" y2="39.2" stroke="#000" stroke-width="2.8" stroke-dasharray="9.445 9.445"/>
</g>
<text x="1104.2" y="310.9" font-size="19.4" text-anchor="end" fill="#4D4D4D" stroke="#4D4D4D">0</text>
<text x="1104.2" y="215.3" font-size="19.4" text-anchor="end" fill="#4D4D4D" stroke="#4D4D4D">1,000,000</text>
<text x="1104.2" y="119.6" font-size="19.4" text-anchor="end" fill="#4D4D4D" stroke="#4D4D4D">2,000,000</text>
<text x="1002.7" y="178" font-size="24.2" text-anchor="middle" transform="rotate(-90 1002.7 178)" fill="#4D4D4D" stroke="#4D4D4D">Infections averted</text>
<g id="B2">
<line x1="1194.24" y1="352.2" x2="1194.24" y2="619.3" stroke="#EBEBEB" stroke-width="1.18"/>
<line x1="1299.11" y1="352.2" x2="1299.11" y2="619.3" stroke="#EBEBEB" stroke-width="1.18"/>
<line x1="1403.99" y1="352.2" x2="1403.99" y2="619.3" stroke="#EBEBEB" stroke-width="1.18"/>
<line x1="1508.86" y1="352.2" x2="1508.86" y2="619.3" stroke="#EBEBEB" stroke-width="1.18"/>
<line x1="1120.8" y1="569.2" x2="1582.3" y2="569.2" stroke="#EBEBEB" stroke-width="1.18"/>
<line x1="1120.8" y1="493.2" x2="1582.3" y2="493.2" stroke="#EBEBEB" stroke-width="1.18"/>
<line x1="1120.8" y1="417.2" x2="1582.3" y2="417.2" stroke="#EBEBEB" stroke-width="1.18"/>
<line x1="1141.8" y1="352.2" x2="1141.8" y2="619.3" stroke="#EBEBEB" stroke-width="2.36"/>
<line x1="1246.67" y1="352.2" x2="1246.67" y2="619.3" stroke="#EBEBEB" stroke-width="2.36"/>
<line x1="1351.55" y1="352.2" x2="1351.55" y2="619.3" stroke="#EBEBEB" stroke-width="2.36"/>
<line x1="1456.42" y1="352.2" x2="1456.42" y2="619.3" stroke="#EBEBEB" stroke-width="2.36"/>
<line x1="1561.3" y1="352.2" x2="1561.3" y2="619.3" stroke="#EBEBEB" stroke-width="2.36"/>
<line x1="1120.8" y1="607.2" x2="1582.3" y2="607.2" stroke="#EBEBEB" stroke-width="2.36"/>
<line x1="1120.8" y1="531.2" x2="1582.3" y2="531.2" stroke="#EBEBEB" stroke-width="2.36"/>
<line x1="1120.8" y1="455.2" x2="1582.3" y2="455.2" stroke="#EBEBEB" stroke-width="2.36"/>
<line x1="1120.8" y1="379.3" x2="1582.3" y2="379.3" stroke="#EBEBEB" stroke-width="2.36"/>
<polygon points="1141.8,607.2 1162.77,568.73 1183.75,532.93 1204.72,500.31 1225.7,471.59 1246.67,447.22 1267.65,428.07 1288.62,413.63 1309.6,403.25 1330.58,395.28 1351.55,389.16 1372.52,384.64 1393.5,381.54 1414.47,379.32 1435.45,377.82 1456.42,376.66 1477.4,375.78 1498.38,374.98 1519.35,374.45 1540.32,374.01 1561.3,373.74 1561.3,413.09 1540.32,413.27 1519.35,413.54 1498.38,413.8 1477.4,414.25 1456.42,414.87 1435.45,415.66 1414.47,416.73 1393.5,418.32 1372.52,420.63 1351.55,423.91 1330.58,428.34 1309.6,434.1 1288.62,441.63 1267.65,452.09 1246.67,465.56 1225.7,482.85 1204.72,505.89 1183.75,534.88 1162.77,569.18 1141.8,607.2" fill="#3F7FC2" fill-opacity="0.3"/>
<polyline points="1141.8,607.2 1162.77,568.91 1183.75,533.81 1204.72,502.79 1225.7,476.2 1246.67,454.48 1267.65,437.64 1288.62,425.24 1309.6,416.55 1330.58,409.99 1351.55,404.94 1372.52,401.13 1393.5,398.38 1414.47,396.43 1435.45,395.1 1456.42,394.13 1477.4,393.33 1498.38,392.71 1519.35,392.26 1540.32,391.91 1561.3,391.64" fill="none" stroke="#3F7FC2" stroke-width="3" stroke-linejoin="round"/>
<line x1="1120.8" y1="417.4" x2="1582.3" y2="417.4" stroke="#000" stroke-width="2.8" stroke-dasharray="9.445 9.445"/>
<line x1="1309.6" y1="619.3" x2="1309.6" y2="352.2" stroke="#000" stroke-width="2.8" stroke-dasharray="9.445 9.445"/>
</g>
<text x="1104.2" y="631.6" font-size="19.4" text-anchor="end" fill="#4D4D4D" stroke="#4D4D4D">0</text>
<text x="1104.2" y="552.7" font-size="19.4" text-anchor="end" fill="#4D4D4D" stroke="#4D4D4D">50,000</text>
<text x="1104.2" y="473.9" font-size="19.4" text-anchor="end" fill="#4D4D4D" stroke="#4D4D4D">100,000</text>
<text x="1104.2" y="395.1" font-size="19.4" text-anchor="end" fill="#4D4D4D" stroke="#4D4D4D">150,000</text>
<text x="1002.7" y="485.5" font-size="24.2" text-anchor="middle" transform="rotate(-90 1002.7 485.5)" fill="#4D4D4D" stroke="#4D4D4D">Cases averted</text>
<g id="B3">
<line x1="1194.24" y1="655.2" x2="1194.24" y2="955.5" stroke="#EBEBEB" stroke-width="1.18"/>
<line x1="1299.11" y1="655.2" x2="1299.11" y2="955.5" stroke="#EBEBEB" stroke-width="1.18"/>
<line x1="1403.99" y1="655.2" x2="1403.99" y2="955.5" stroke="#EBEBEB" stroke-width="1.18"/>
<line x1="1508.86" y1="655.2" x2="1508.86" y2="955.5" stroke="#EBEBEB" stroke-width="1.18"/>
<line x1="1120.8" y1="898.8" x2="1582.3" y2="898.8" stroke="#EBEBEB" stroke-width="1.18"/>
<line x1="1120.8" y1="814" x2="1582.3" y2="814" stroke="#EBEBEB" stroke-width="1.18"/>
<line x1="1120.8" y1="729.2" x2="1582.3" y2="729.2" stroke="#EBEBEB" stroke-width="1.18"/>
<line x1="1141.8" y1="655.2" x2="1141.8" y2="955.5" stroke="#EBEBEB" stroke-width="2.36"/>
<line x1="1246.67" y1="655.2" x2="1246.67" y2="955.5" stroke="#EBEBEB" stroke-width="2.36"/>
<line x1="1351.55" y1="655.2" x2="1351.55" y2="955.5" stroke="#EBEBEB" stroke-width="2.36"/>
<line x1="1456.42" y1="655.2" x2="1456.42" y2="955.5" stroke="#EBEBEB" stroke-width="2.36"/>
<line x1="1561.3" y1="655.2" x2="1561.3" y2="955.5" stroke="#EBEBEB" stroke-width="2.36"/>
<line x1="1120.8" y1="941.2" x2="1582.3" y2="941.2" stroke="#EBEBEB" stroke-width="2.36"/>
<line x1="1120.8" y1="856.4" x2="1582.3" y2="856.4" stroke="#EBEBEB" stroke-width="2.36"/>
<line x1="1120.8" y1="771.6" x2="1582.3" y2="771.6" stroke="#EBEBEB" stroke-width="2.36"/>
<line x1="1120.8" y1="686.9" x2="1582.3" y2="686.9" stroke="#EBEBEB" stroke-width="2.36"/>
<polygon points="1141.8,941.2 1162.77,896.27 1183.75,854.45 1204.72,816.35 1225.7,782.81 1246.67,754.34 1267.65,731.98 1288.62,715.11 1309.6,702.99 1330.58,693.68 1351.55,686.53 1372.52,681.25 1393.5,677.63 1414.47,675.04 1435.45,673.28 1456.42,671.94 1477.4,670.9 1498.38,669.97 1519.35,669.35 1540.32,668.83 1561.3,668.52 1561.3,714.49 1540.32,714.69 1519.35,715 1498.38,715.31 1477.4,715.83 1456.42,716.56 1435.45,717.49 1414.47,718.73 1393.5,720.59 1372.52,723.28 1351.55,727.12 1330.58,732.29 1309.6,739.02 1288.62,747.82 1267.65,760.04 1246.67,775.77 1225.7,795.96 1204.72,822.87 1183.75,856.73 1162.77,896.79 1141.8,941.2" fill="#3F7FC2" fill-opacity="0.3"/>
<polyline points="1141.8,941.2 1162.77,896.48 1183.75,855.48 1204.72,819.25 1225.7,788.19 1246.67,762.83 1267.65,743.16 1288.62,728.67 1309.6,718.52 1330.58,710.86 1351.55,704.96 1372.52,700.51 1393.5,697.3 1414.47,695.02 1435.45,693.47 1456.42,692.33 1477.4,691.4 1498.38,690.68 1519.35,690.16 1540.32,689.74 1561.3,689.43" fill="none" stroke="#3F7FC2" stroke-width="3" stroke-linejoin="round"/>
<line x1="1120.8" y1="718.5" x2="1582.3" y2="718.5" stroke="#000" stroke-width="2.8" stroke-dasharray="9.445 9.445"/>
<line x1="1309.6" y1="955.5" x2="1309.6" y2="655.2" stroke="#000" stroke-width="2.8" stroke-dasharray="9.445 9.445"/>
</g>
<text x="1104.2" y="948.2" font-size="19.4" text-anchor="end" fill="#4D4D4D" stroke="#4D4D4D">0</text>
<text x="1104.2" y="863.4" font-size="19.4" text-anchor="end" fill="#4D4D4D" stroke="#4D4D4D">100</text>
<text x="1104.2" y="778.6" font-size="19.4" text-anchor="end" fill="#4D4D4D" stroke="#4D4D4D">200</text>
<text x="1104.2" y="693.9" font-size="19.4" text-anchor="end" fill="#4D4D4D" stroke="#4D4D4D">300</text>
<text x="1002.7" y="805" font-size="24.2" text-anchor="middle" transform="rotate(-90 1002.7 805)" fill="#4D4D4D" stroke="#4D4D4D">Deaths averted</text>
<g id="C1">
<line x1="1730.83" y1="39.2" x2="1730.83" y2="317.2" stroke="#EBEBEB" stroke-width="1.18"/>
<line x1="1869.88" y1="39.2" x2="1869.88" y2="317.2" stroke="#EBEBEB" stroke-width="1.18"/>
<line x1="2008.93" y1="39.2" x2="2008.93" y2="317.2" stroke="#EBEBEB" stroke-width="1.18"/>
<line x1="1612.6" y1="255.5" x2="2071.5" y2="255.5" stroke="#EBEBEB" stroke-width="1.18"/>
<line x1="1612.6" y1="158.6" x2="2071.5" y2="158.6" stroke="#EBEBEB" stroke-width="1.18"/>
<line x1="1612.6" y1="85.8" x2="2071.5" y2="85.8" stroke="#EBEBEB" stroke-width="1.18"/>
<line x1="1661.3" y1="39.2" x2="1661.3" y2="317.2" stroke="#EBEBEB" stroke-width="2.36"/>
<line x1="1800.35" y1="39.2" x2="1800.35" y2="317.2" stroke="#EBEBEB" stroke-width="2.36"/>
<line x1="1939.4" y1="39.2" x2="1939.4" y2="317.2" stroke="#EBEBEB" stroke-width="2.36"/>
<line x1="1612.6" y1="304" x2="2071.5" y2="304" stroke="#EBEBEB" stroke-width="2.36"/>
<line x1="1612.6" y1="207.1" x2="2071.5" y2="207.1" stroke="#EBEBEB" stroke-width="2.36"/>
<line x1="1612.6" y1="110.1" x2="2071.5" y2="110.1" stroke="#EBEBEB" stroke-width="2.36"/>
<line x1="1612.6" y1="61.5" x2="2071.5" y2="61.5" stroke="#EBEBEB" stroke-width="2.36"/>
<polygon points="1633.49,74.93 1661.3,80.45 1689.11,86.56 1716.92,93.73 1744.73,102.25 1772.54,112.23 1800.35,123.38 1828.16,135.2 1855.97,147.51 1883.78,160.1 1911.59,172.99 1939.4,186.07 1967.21,199.25 1995.02,212.24 2022.83,224.25 2050.64,234.81 2050.64,245.08 2022.83,234.14 1995.02,222.8 1967.21,211.46 1939.4,200.22 1911.59,189.27 1883.78,178.71 1855.97,168.44 1828.16,158.36 1800.35,148.77 1772.54,140.05 1744.73,132.29 1716.92,125.7 1689.11,120.08 1661.3,115.34 1633.49,111.27" fill="#3F7FC2" fill-opacity="0.3"/>
<polyline points="1633.49,90.72 1661.3,95.57 1689.11,101.19 1716.92,107.78 1744.73,115.53 1772.54,124.54 1800.35,134.62 1828.16,145.37 1855.97,156.62 1883.78,168.24 1911.59,180.16 1939.4,192.37 1967.21,204.77 1995.02,217.08 2022.83,228.81 2050.64,239.46" fill="none" stroke="#3F7FC2" stroke-width="3" stroke-linejoin="round"/>
<line x1="1612.6" y1="95.3" x2="2071.5" y2="95.3" stroke="#000" stroke-width="2.8" stroke-dasharray="9.445 9.445"/>
<line x1="1661.3" y1="317.2" x2="1661.3" y2="39.2" stroke="#000" stroke-width="2.8" stroke-dasharray="9.445 9.445"/>
</g>
<text x="2079.6" y="312.6" font-size="19.4" fill="#4D4D4D" stroke="#4D4D4D">0</text>
<text x="2079.6" y="216.6" font-size="19.4" fill="#4D4D4D" stroke="#4D4D4D">1,000,000</text>
<text x="2079.6" y="121.5" font-size="19.4" fill="#4D4D4D" stroke="#4D4D4D">2,000,000</text>
<g id="C2">
<line x1="1730.83" y1="348.3" x2="1730.83" y2="625" stroke="#EBEBEB" stroke-width="1.18"/>
<line x1="1869.88" y1="348.3" x2="1869.88" y2="625" stroke="#EBEBEB" stroke-width="1.18"/>
<line x1="2008.93" y1="348.3" x2="2008.93" y2="625" stroke="#EBEBEB" stroke-width="1.18"/>
<line x1="1612.6" y1="572.4" x2="2071.5" y2="572.4" stroke="#EBEBEB" stroke-width="1.18"/>
<line x1="1612.6" y1="493.9" x2="2071.5" y2="493.9" stroke="#EBEBEB" stroke-width="1.18"/>
<line x1="1612.6" y1="421.3" x2="2071.5" y2="421.3" stroke="#EBEBEB" stroke-width="1.18"/>
<line x1="1612.6" y1="348.9" x2="2071.5" y2="348.9" stroke="#EBEBEB" stroke-width="1.18"/>
<line x1="1661.3" y1="348.3" x2="1661.3" y2="625" stroke="#EBEBEB" stroke-width="2.36"/>
<line x1="1800.35" y1="348.3" x2="1800.35" y2="625" stroke="#EBEBEB" stroke-width="2.36"/>
<line x1="1939.4" y1="348.3" x2="1939.4" y2="625" stroke="#EBEBEB" stroke-width="2.36"/>
<line x1="1612.6" y1="612" x2="2071.5" y2="612" stroke="#EBEBEB" stroke-width="2.36"/>
<line x1="1612.6" y1="533.4" x2="2071.5" y2="533.4" stroke="#EBEBEB" stroke-width="2.36"/>
<line x1="1612.6" y1="454.4" x2="2071.5" y2="454.4" stroke="#EBEBEB" stroke-width="2.36"/>
<line x1="1612.6" y1="388" x2="2071.5" y2="388" stroke="#EBEBEB" stroke-width="2.36"/>
<polygon points="1633.49,394.9 1661.3,400.14 1689.11,405.92 1716.92,412.72 1744.73,420.81 1772.54,430.27 1800.35,440.84 1828.16,452.05 1855.97,463.72 1883.78,475.66 1911.59,487.88 1939.4,500.28 1967.21,512.78 1995.02,525.09 2022.83,536.48 2050.64,546.5 2050.64,556.24 2022.83,545.86 1995.02,535.11 1967.21,524.36 1939.4,513.7 1911.59,503.32 1883.78,493.3 1855.97,483.56 1828.16,474.01 1800.35,464.91 1772.54,456.64 1744.73,449.29 1716.92,443.04 1689.11,437.71 1661.3,433.21 1633.49,429.35" fill="#3F7FC2" fill-opacity="0.3"/>
<polyline points="1633.49,409.88 1661.3,414.47 1689.11,419.8 1716.92,426.05 1744.73,433.4 1772.54,441.94 1800.35,451.5 1828.16,461.7 1855.97,472.35 1883.78,483.38 1911.59,494.68 1939.4,506.26 1967.21,518.02 1995.02,529.69 2022.83,540.8 2050.64,550.91" fill="none" stroke="#3F7FC2" stroke-width="3" stroke-linejoin="round"/>
<line x1="1612.6" y1="414.5" x2="2071.5" y2="414.5" stroke="#000" stroke-width="2.8" stroke-dasharray="9.445 9.445"/>
<line x1="1661.3" y1="625" x2="1661.3" y2="348.3" stroke="#000" stroke-width="2.8" stroke-dasharray="9.445 9.445"/>
</g>
<text x="2079.6" y="632.1" font-size="19.4" fill="#4D4D4D" stroke="#4D4D4D">0</text>
<text x="2079.6" y="553.9" font-size="19.4" fill="#4D4D4D" stroke="#4D4D4D">50,000</text>
<text x="2079.6" y="474.9" font-size="19.4" fill="#4D4D4D" stroke="#4D4D4D">100,000</text>
<text x="2079.6" y="396.3" font-size="19.4" fill="#4D4D4D" stroke="#4D4D4D">150,000</text>
<g id="C3">
<line x1="1730.83" y1="655.2" x2="1730.83" y2="955.5" stroke="#EBEBEB" stroke-width="1.18"/>
<line x1="1869.88" y1="655.2" x2="1869.88" y2="955.5" stroke="#EBEBEB" stroke-width="1.18"/>
<line x1="2008.93" y1="655.2" x2="2008.93" y2="955.5" stroke="#EBEBEB" stroke-width="1.18"/>
<line x1="1612.6" y1="898.8" x2="2071.5" y2="898.8" stroke="#EBEBEB" stroke-width="1.18"/>
<line x1="1612.6" y1="814" x2="2071.5" y2="814" stroke="#EBEBEB" stroke-width="1.18"/>
<line x1="1612.6" y1="729.2" x2="2071.5" y2="729.2" stroke="#EBEBEB" stroke-width="1.18"/>
<line x1="1661.3" y1="655.2" x2="1661.3" y2="955.5" stroke="#EBEBEB" stroke-width="2.36"/>
<line x1="1800.35" y1="655.2" x2="1800.35" y2="955.5" stroke="#EBEBEB" stroke-width="2.36"/>
<line x1="1939.4" y1="655.2" x2="1939.4" y2="955.5" stroke="#EBEBEB" stroke-width="2.36"/>
<line x1="1612.6" y1="941.2" x2="2071.5" y2="941.2" stroke="#EBEBEB" stroke-width="2.36"/>
<line x1="1612.6" y1="856.4" x2="2071.5" y2="856.4" stroke="#EBEBEB" stroke-width="2.36"/>
<line x1="1612.6" y1="771.6" x2="2071.5" y2="771.6" stroke="#EBEBEB" stroke-width="2.36"/>
<line x1="1612.6" y1="686.9" x2="2071.5" y2="686.9" stroke="#EBEBEB" stroke-width="2.36"/>
<polygon points="1633.49,695.25 1661.3,701.18 1689.11,707.73 1716.92,715.43 1744.73,724.59 1772.54,735.3 1800.35,747.27 1828.16,759.96 1855.97,773.17 1883.78,786.7 1911.59,800.54 1939.4,814.58 1967.21,828.73 1995.02,842.67 2022.83,855.57 2050.64,866.91 2050.64,877.94 2022.83,866.19 1995.02,854.01 1967.21,841.84 1939.4,829.77 1911.59,818.02 1883.78,806.67 1855.97,795.65 1828.16,784.83 1800.35,774.53 1772.54,765.16 1744.73,756.84 1716.92,749.76 1689.11,743.73 1661.3,738.63 1633.49,734.26" fill="#3F7FC2" fill-opacity="0.3"/>
<polyline points="1633.49,712.21 1661.3,717.41 1689.11,723.44 1716.92,730.52 1744.73,738.84 1772.54,748.52 1800.35,759.34 1828.16,770.88 1855.97,782.95 1883.78,795.44 1911.59,808.24 1939.4,821.34 1967.21,834.66 1995.02,847.87 2022.83,860.46 2050.64,871.91" fill="none" stroke="#3F7FC2" stroke-width="3" stroke-linejoin="round"/>
<line x1="1612.6" y1="717.5" x2="2071.5" y2="717.5" stroke="#000" stroke-width="2.8" stroke-dasharray="9.445 9.445"/>
<line x1="1661.3" y1="955.5" x2="1661.3" y2="655.2" stroke="#000" stroke-width="2.8" stroke-dasharray="9.445 9.445"/>
</g>
<text x="2079.6" y="949.4" font-size="19.4" fill="#4D4D4D" stroke="#4D4D4D">0</text>
<text x="2079.6" y="864.6" font-size="19.4" fill="#4D4D4D" stroke="#4D4D4D">100</text>
<text x="2079.6" y="779.8" font-size="19.4" fill="#4D4D4D" stroke="#4D4D4D">200</text>
<text x="2079.6" y="695.1" font-size="19.4" fill="#4D4D4D" stroke="#4D4D4D">300</text>
<text x="1141.8" y="980.3" font-size="19.4" text-anchor="middle" fill="#4D4D4D" stroke="#4D4D4D">0</text>
<text x="1142.3" y="1000.7" font-size="19.0" text-anchor="middle" font-style="italic" fill="#2573B7" stroke="#2573B7">0</text>
<text x="1246.67" y="980.3" font-size="19.4" text-anchor="middle" fill="#4D4D4D" stroke="#4D4D4D">25</text>
<text x="1247.17" y="1000.7" font-size="19.0" text-anchor="middle" font-style="italic" fill="#2573B7" stroke="#2573B7">1.4</text>
<text x="1351.55" y="980.3" font-size="19.4" text-anchor="middle" fill="#4D4D4D" stroke="#4D4D4D">50</text>
<text x="1352.05" y="1000.7" font-size="19.0" text-anchor="middle" font-style="italic" fill="#2573B7" stroke="#2573B7">2.7</text>
<text x="1456.42" y="980.3" font-size="19.4" text-anchor="middle" fill="#4D4D4D" stroke="#4D4D4D">75</text>
<text x="1456.92" y="1000.7" font-size="19.0" text-anchor="middle" font-style="italic" fill="#2573B7" stroke="#2573B7">4.1</text>
<text x="1561.3" y="980.3" font-size="19.4" text-anchor="middle" fill="#4D4D4D" stroke="#4D4D4D">100</text>
<text x="1561.8" y="1000.7" font-size="19.0" text-anchor="middle" font-style="italic" fill="#2573B7" stroke="#2573B7">5.5</text>
<text x="1352.1" y="1030.6" font-size="24.2" text-anchor="middle" fill="#4D4D4D" stroke="#4D4D4D">Coverage (%)</text>
<text x="1352" y="1057.2" font-size="24.2" text-anchor="middle" font-style="italic" fill="#2573B7" stroke="#2573B7">Doses used (million)</text>
<text x="1661.3" y="980.3" font-size="19.4" text-anchor="middle" fill="#4D4D4D" stroke="#4D4D4D">0</text>
<text x="1800.35" y="980.3" font-size="19.4" text-anchor="middle" fill="#4D4D4D" stroke="#4D4D4D">5</text>
<text x="1939.4" y="980.3" font-size="19.4" text-anchor="middle" fill="#4D4D4D" stroke="#4D4D4D">10</text>
<text x="1842.1" y="1030" font-size="24.2" text-anchor="middle" fill="#4D4D4D" stroke="#4D4D4D">Campaign delay (weeks)</text>
<text x="983.6" y="39.3" font-size="56" fill="#000" stroke="#000">B</text>
<text x="1570.8" y="39.3" font-size="56" fill="#000" stroke="#000">C</text>
</svg>
</body></html>
